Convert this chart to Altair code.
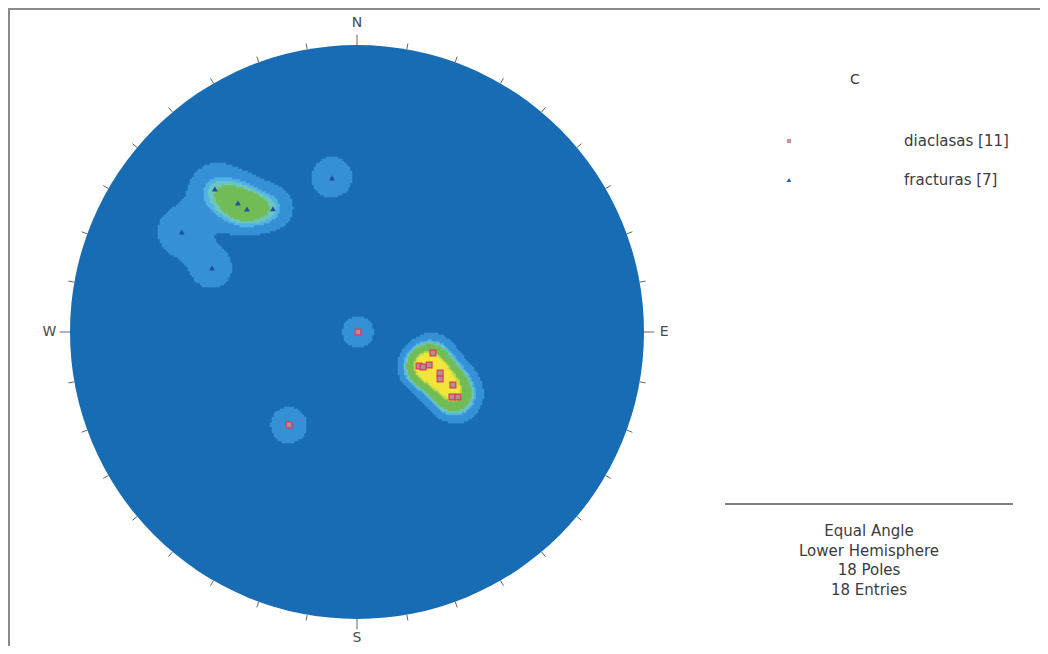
import numpy as np
import pandas as pd
import altair as alt

# ---- data (poles: trend / plunge in degrees) ----
dia_trend = [105.5, 118.7, 114.6, 116.3, 119.5, 118.9, 124.4, 122.8, 117.9, 90.0, 216.2]
dia_plunge = [59.3, 62.3, 59.1, 54.2, 53.2, 48.2, 46.3, 44.6, 60.8, 89.6, 46.3]
fra_trend = [315.2, 317.3, 318.2, 325.7, 350.8, 299.7, 293.8]
fra_plunge = [19.8, 27.1, 30.2, 35.1, 32.9, 19.8, 32.2]

set_names = ["diaclasas [11]", "fracturas [7]"]
cardinal_labels = ["N", "E", "S", "W"]
cardinal_angles = [0, 90, 180, 270]
info_lines = ["Equal Angle", "Lower Hemisphere", "18 Poles", "18 Entries"]
legend_title = "C"

# ---- layout ----
W, H = 1032, 638
R = 287.0
CX, CY = 349.0, 324.0
xs = alt.Scale(domain=[-CX / R, (W - CX) / R], nice=False, zero=False)
ys = alt.Scale(domain=[-(H - CY) / R, CY / R], nice=False, zero=False)
FONT = "DejaVu Sans"
TXT = "#3c3c3c"


def project(trend, plunge):
    t = np.radians(np.asarray(trend, float))
    p = np.radians(np.asarray(plunge, float))
    r = np.tan((np.pi / 2 - p) / 2)
    return r * np.sin(t), r * np.cos(t)


# ---- density (spherical kernel, lower hemisphere) ----
all_t = np.radians(np.array(dia_trend + fra_trend))
all_p = np.radians(np.array(dia_plunge + fra_plunge))
vx = np.cos(all_p) * np.sin(all_t)
vy = np.cos(all_p) * np.cos(all_t)
vz = np.sin(all_p)

step = 2.0 / R
g = np.arange(-1 + step / 2, 1, step)
GX, GY = np.meshgrid(g, g)
rr = np.hypot(GX, GY)
phi = 2 * np.arctan(rr)
tr = np.arctan2(GX, GY)
ex = np.sin(phi) * np.sin(tr)
ey = np.sin(phi) * np.cos(tr)
ez = np.cos(phi)
dot = np.abs(ex[..., None] * vx + ey[..., None] * vy + ez[..., None] * vz)
k = 1.0 / np.radians(5.0) ** 2
dens = np.exp(k * (dot - 1)).sum(-1)
thresholds = [0.47, 1.05, 1.25, 1.5, 2.7, 3.0]
level = np.digitize(dens, thresholds)
mask = (level >= 1) & (rr <= 1 - step)
grid = pd.DataFrame({
    "x": GX[mask] - step / 2, "x2": GX[mask] + step / 2,
    "y": GY[mask] - step / 2, "y2": GY[mask] + step / 2,
    "level": level[mask],
})
level_colors = ["#3590d6", "#52b4e6", "#6cc6c0", "#72bc58", "#c4dc40", "#f2e63c"]

# ---- poles ----
dx, dy = project(dia_trend, dia_plunge)
fx, fy = project(fra_trend, fra_plunge)
dia_df = pd.DataFrame({"x": dx, "y": dy})
fra_df = pd.DataFrame({"x": fx, "y": fy})

# ---- ticks ----
ang = np.arange(0, 360, 10)
is_card = (ang % 90 == 0)
r1 = np.where(is_card, 1.036, 1.021)
tick_df = pd.DataFrame({
    "x": np.sin(np.radians(ang)), "y": np.cos(np.radians(ang)),
    "x2": r1 * np.sin(np.radians(ang)), "y2": r1 * np.cos(np.radians(ang)),
})
card_r = [1.075, 1.07, 1.067, 1.072]
card_df = pd.DataFrame({
    "label": cardinal_labels,
    "x": np.array(card_r) * np.sin(np.radians(cardinal_angles)),
    "y": np.array(card_r) * np.cos(np.radians(cardinal_angles)),
})

base = alt.Chart(pd.DataFrame({"x": [0.0], "y": [0.0]}))
net = base.mark_point(shape="circle", filled=True, size=(2 * R) ** 2, color="#176cb4",
                      opacity=1, strokeWidth=0).encode(
    x=alt.X("x:Q", scale=xs, axis=None), y=alt.Y("y:Q", scale=ys, axis=None))

cscale = alt.Scale(domain=[1, 2, 3, 4, 5, 6], range=level_colors)
contours = alt.Chart(grid).mark_rect(strokeWidth=0.6).encode(
    x=alt.X("x:Q", scale=xs, axis=None), x2="x2:Q",
    y=alt.Y("y:Q", scale=ys, axis=None), y2="y2:Q",
    color=alt.Color("level:O", scale=cscale, legend=None),
    stroke=alt.Stroke("level:O", scale=cscale, legend=None),
)

ticks = alt.Chart(tick_df).mark_rule(color="#666666", strokeWidth=1).encode(
    x=alt.X("x:Q", scale=xs, axis=None), y=alt.Y("y:Q", scale=ys, axis=None),
    x2="x2:Q", y2="y2:Q")

card = alt.Chart(card_df).mark_text(font=FONT, fontSize=14, color="#4a4a4a",
                                    align="center", baseline="middle").encode(
    x=alt.X("x:Q", scale=xs, axis=None), y=alt.Y("y:Q", scale=ys, axis=None), text="label:N")

dia_pts = alt.Chart(dia_df).mark_point(shape="square", filled=True, size=34, fill="#b98a98",
                                       stroke="#d83a58", strokeWidth=1.2, opacity=1).encode(
    x=alt.X("x:Q", scale=xs, axis=None), y=alt.Y("y:Q", scale=ys, axis=None))
fra_pts = alt.Chart(fra_df).mark_point(shape="triangle-up", filled=True, size=34,
                                       color="#1d4f9c", opacity=1).encode(
    x=alt.X("x:Q", scale=xs, axis=None), y=alt.Y("y:Q", scale=ys, axis=None))

# ---- legend / info panel ----
leg_title = base.mark_text(font=FONT, fontSize=14, color=TXT, align="center",
                           baseline="middle").encode(
    x=alt.value(847), y=alt.value(72), text=alt.value(legend_title))
leg_df = pd.DataFrame({"name": set_names, "row": [0, 1]})
leg_text = alt.Chart(leg_df).transform_calculate(py="133 + datum.row * 39").mark_text(
    font=FONT, fontSize=15, color=TXT, align="left", baseline="middle").encode(
    x=alt.value(896), y=alt.Y("py:Q", scale=None), text="name:N")
leg_sq = base.mark_point(shape="square", filled=True, size=18, color="#c9949c", opacity=1).encode(
    x=alt.value(781), y=alt.value(133))
leg_tri = base.mark_point(shape="triangle-up", filled=True, size=22, color="#1f5fae", opacity=1).encode(
    x=alt.value(781), y=alt.value(172))

info_rule = base.mark_rule(color="#555555", strokeWidth=1.3).encode(
    x=alt.value(717), x2=alt.value(1005), y=alt.value(496))
info_df = pd.DataFrame({"line": info_lines, "row": [0, 1, 2, 3]})
info_text = alt.Chart(info_df).transform_calculate(py="523 + datum.row * 19.5").mark_text(
    font=FONT, fontSize=15, color=TXT, align="center", baseline="middle").encode(
    x=alt.value(861), y=alt.Y("py:Q", scale=None), text="line:N")

frame_top = base.mark_rule(color="#8a8a8a", strokeWidth=2).encode(
    x=alt.value(0), x2=alt.value(W), y=alt.value(1))
frame_left = base.mark_rule(color="#8a8a8a", strokeWidth=2).encode(
    x=alt.value(1), y=alt.value(0), y2=alt.value(H))

chart = alt.layer(
    net, contours, ticks, card, dia_pts, fra_pts,
    leg_title, leg_text, leg_sq, leg_tri, info_rule, info_text, frame_top, frame_left,
).properties(
    width=W, height=H, padding=0, autosize=alt.AutoSizeParams(type="none"),
    background="white",
).configure_view(stroke=None)

chart.save("out.html", embed_options={"renderer": "svg", "actions": False})
